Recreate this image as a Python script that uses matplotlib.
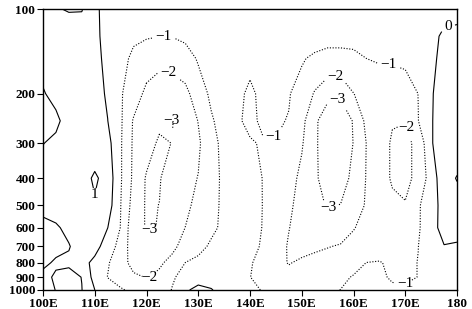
import numpy as np
import matplotlib
matplotlib.use('Agg')
import matplotlib.pyplot as plt

plt.rcParams['font.family'] = ['Liberation Serif', 'DejaVu Serif']

# grid: 2.5 deg longitude, pressure levels (hPa)
lons = np.arange(100, 180.1, 2.5)
plevs = [100, 125, 150, 200, 250, 300, 400, 500, 600, 700, 800, 900, 1000]

# field values, one row per pressure level, 100E ... 180
field = [
    [0.8, 0.955, 1.05, 1.05, 0.3, -0.56, -0.6, -0.65, -0.7, -0.75, -0.75, -0.7, -0.6, -0.5, -0.45,
     -0.45, -0.45, -0.45, -0.5, -0.55, -0.6, -0.65, -0.7, -0.7, -0.7, -0.65, -0.6, -0.55, -0.5, -0.45, -0.4, -0.35, -0.3],
    [0.7, 0.6, 0.6, 0.5, 0.3, -0.45, -0.7, -0.85, -0.93, -0.99, -0.97, -0.85, -0.7, -0.55, -0.45,
     -0.45, -0.5, -0.5, -0.55, -0.6, -0.7, -0.75, -0.8, -0.8, -0.8, -0.75, -0.75, -0.7, -0.65, -0.6, -0.3, 0.19, 0.25],
    [0.8, 0.7, 0.55, 0.4, 0.25, -0.23, -0.7, -1.19, -1.5, -1.75, -1.7, -1.35, -0.92, -0.7, -0.55,
     -0.6, -0.8, -0.75, -0.75, -0.85, -0.95, -1.1, -1.2, -1.2, -1.15, -1.0, -0.92, -0.9, -0.8, -0.7, -0.3, 0.4, 0.45],
    [1.05, 0.8, 0.6, 0.5, 0.3, -0.1, -0.92, -1.45, -2.25, -2.5, -2.45, -2.3, -1.4, -0.85, -0.6,
     -0.8, -1.15, -0.8, -0.85, -0.97, -1.2, -2.1, -2.8, -2.9, -2.02, -1.6, -1.5, -1.5, -1.5, -0.99, -0.05, 0.25, 0.4],
    [1.3, 1.15, 0.7, 0.5, 0.3, 0.01, -0.86, -2.1, -2.6, -2.8, -3.02, -2.7, -1.97, -1.1, -0.65,
     -0.85, -1.25, -0.8, -0.95, -1.02, -1.7, -2.85, -3.45, -3.45, -2.95, -1.75, -1.6, -1.97, -1.98, -1.02, -0.05, 0.35, 0.45],
    [1.02, 0.85, 0.6, 0.5, 0.45, 0.32, -0.9, -2.15, -2.6, -3.15, -2.98, -2.6, -2.15, -1.3, -0.75,
     -0.7, -0.9, -1.1, -1.02, -1.3, -1.9, -2.85, -3.5, -3.5, -2.98, -1.98, -1.8, -2.05, -2.2, -1.8, -0.05, 0.35, 0.5],
    [0.6, 0.55, 0.55, 0.6, 1.15, 0.625, -0.9, -2.2, -3.1, -3.05, -2.6, -2.3, -1.97, -1.45, -0.75,
     -0.7, -0.85, -1.01, -1.35, -1.6, -2.25, -2.85, -3.4, -3.35, -2.8, -1.95, -1.8, -2.05, -2.2, -1.8, -0.5, 0.61, 1.05],
    [0.7, 0.65, 0.65, 0.7, 0.88, 0.48, -0.98, -2.4, -3.1, -2.99, -2.6, -2.2, -1.75, -1.3, -0.8,
     -0.65, -0.8, -1.01, -1.3, -1.85, -2.3, -2.8, -3.05, -2.98, -2.5, -1.9, -1.7, -1.9, -1.95, -1.1, -0.5, 0.44, 0.6],
    [1.3, 1.1, 0.8, 0.7, 0.5, 0.01, -1.03, -2.7, -3.05, -2.98, -2.5, -1.99, -1.5, -1.2, -0.8,
     -0.6, -0.8, -1.02, -1.4, -1.97, -2.4, -2.6, -2.6, -2.6, -2.05, -1.7, -1.5, -1.6, -1.6, -1.1, -0.45, 0.44, 0.5],
    [1.4, 1.2, 1.05, 0.6, 0.4, -0.55, -1.3, -2.6, -2.6, -2.5, -2.15, -1.75, -1.3, -0.85, -0.6,
     -0.55, -0.75, -1.1, -1.5, -2.1, -2.3, -2.2, -2.05, -1.9, -1.7, -1.5, -1.4, -1.4, -1.4, -1.01, -0.45, -0.05, -0.16],
    [1.15, 0.9, 0.85, 0.4, -0.3, -0.92, -1.5, -2.4, -2.35, -2.1, -1.8, -0.99, -0.75, -0.55, -0.5,
     -0.55, -0.92, -1.3, -1.7, -2.05, -1.85, -1.65, -1.5, -1.4, -1.25, -0.99, -0.95, -1.15, -1.2, -0.98, -0.5, -0.3, -0.35],
    [0.8, 1.1, 1.3, 0.98, -0.4, -1.02, -1.4, -1.8, -2.05, -1.85, -1.1, -0.7, -0.3, -0.35, -0.45,
     -0.6, -0.98, -1.4, -1.6, -1.7, -1.6, -1.45, -1.3, -1.15, -0.95, -0.8, -0.85, -1.1, -1.1, -0.99, -0.6, -0.4, -0.4],
    [0.7, 1.02, 1.3, 1.02, 0.01, -0.6, -0.9, -1.2, -1.6, -1.5, -0.95, -0.1, 0.2, 0.05, -0.3,
     -0.6, -0.8, -1.05, -1.3, -1.4, -1.35, -1.25, -1.15, -0.99, -0.7, -0.6, -0.6, -0.85, -0.9, -0.7, -0.5, -0.4, -0.35],
]

levels = [-3, -2, -1, 0, 1]
xticks = [100, 110, 120, 130, 140, 150, 160, 170, 180]
xticklabels = ['100E', '110E', '120E', '130E', '140E', '150E', '160E', '170E', '180']
yticks = [100, 200, 300, 400, 500, 600, 700, 800, 900, 1000]

# where the contour labels sit (lon, hPa)
label_pos = [(123.2, 125), (124.2, 169), (124.5, 248), (121.1, 627), (121.1, 906),
             (109.7, 470), (144.4, 312), (156.4, 172), (156.8, 207), (155.1, 506),
             (166.7, 158), (170.0, 265), (170.0, 977), (178.3, 116)]

fig = plt.figure(figsize=(4.72, 3.09), dpi=100)
ax = fig.add_axes([43 / 472, 19 / 309, 414 / 472, 281 / 309])

styles = [(0, (1, 1.5)) if lv < 0 else 'solid' for lv in levels]
cs = ax.contour(lons, plevs, np.array(field), levels=levels, colors='black',
                linewidths=0.8, linestyles=styles)


def fmt(v):
    return ('%d' % v).replace('-', '\u2212')


labels = ax.clabel(cs, levels, manual=label_pos, inline=True, inline_spacing=3,
                   fmt=fmt, fontsize=11)
for t in labels:
    t.set_rotation(0)

ax.set_yscale('log')
ax.set_ylim(1000, 100)
ax.set_xlim(100, 180)
ax.set_yticks(yticks)
ax.set_yticklabels([str(t) for t in yticks])
ax.yaxis.set_minor_locator(matplotlib.ticker.NullLocator())
ax.set_xticks(xticks)
ax.set_xticklabels(xticklabels)
ax.tick_params(direction='out', length=4, width=0.8, labelsize=9.5, pad=1.5)
for lab in ax.get_xticklabels() + ax.get_yticklabels():
    lab.set_fontweight('bold')
for sp in ax.spines.values():
    sp.set_linewidth(1.0)

fig.savefig('out.png', dpi=100)
